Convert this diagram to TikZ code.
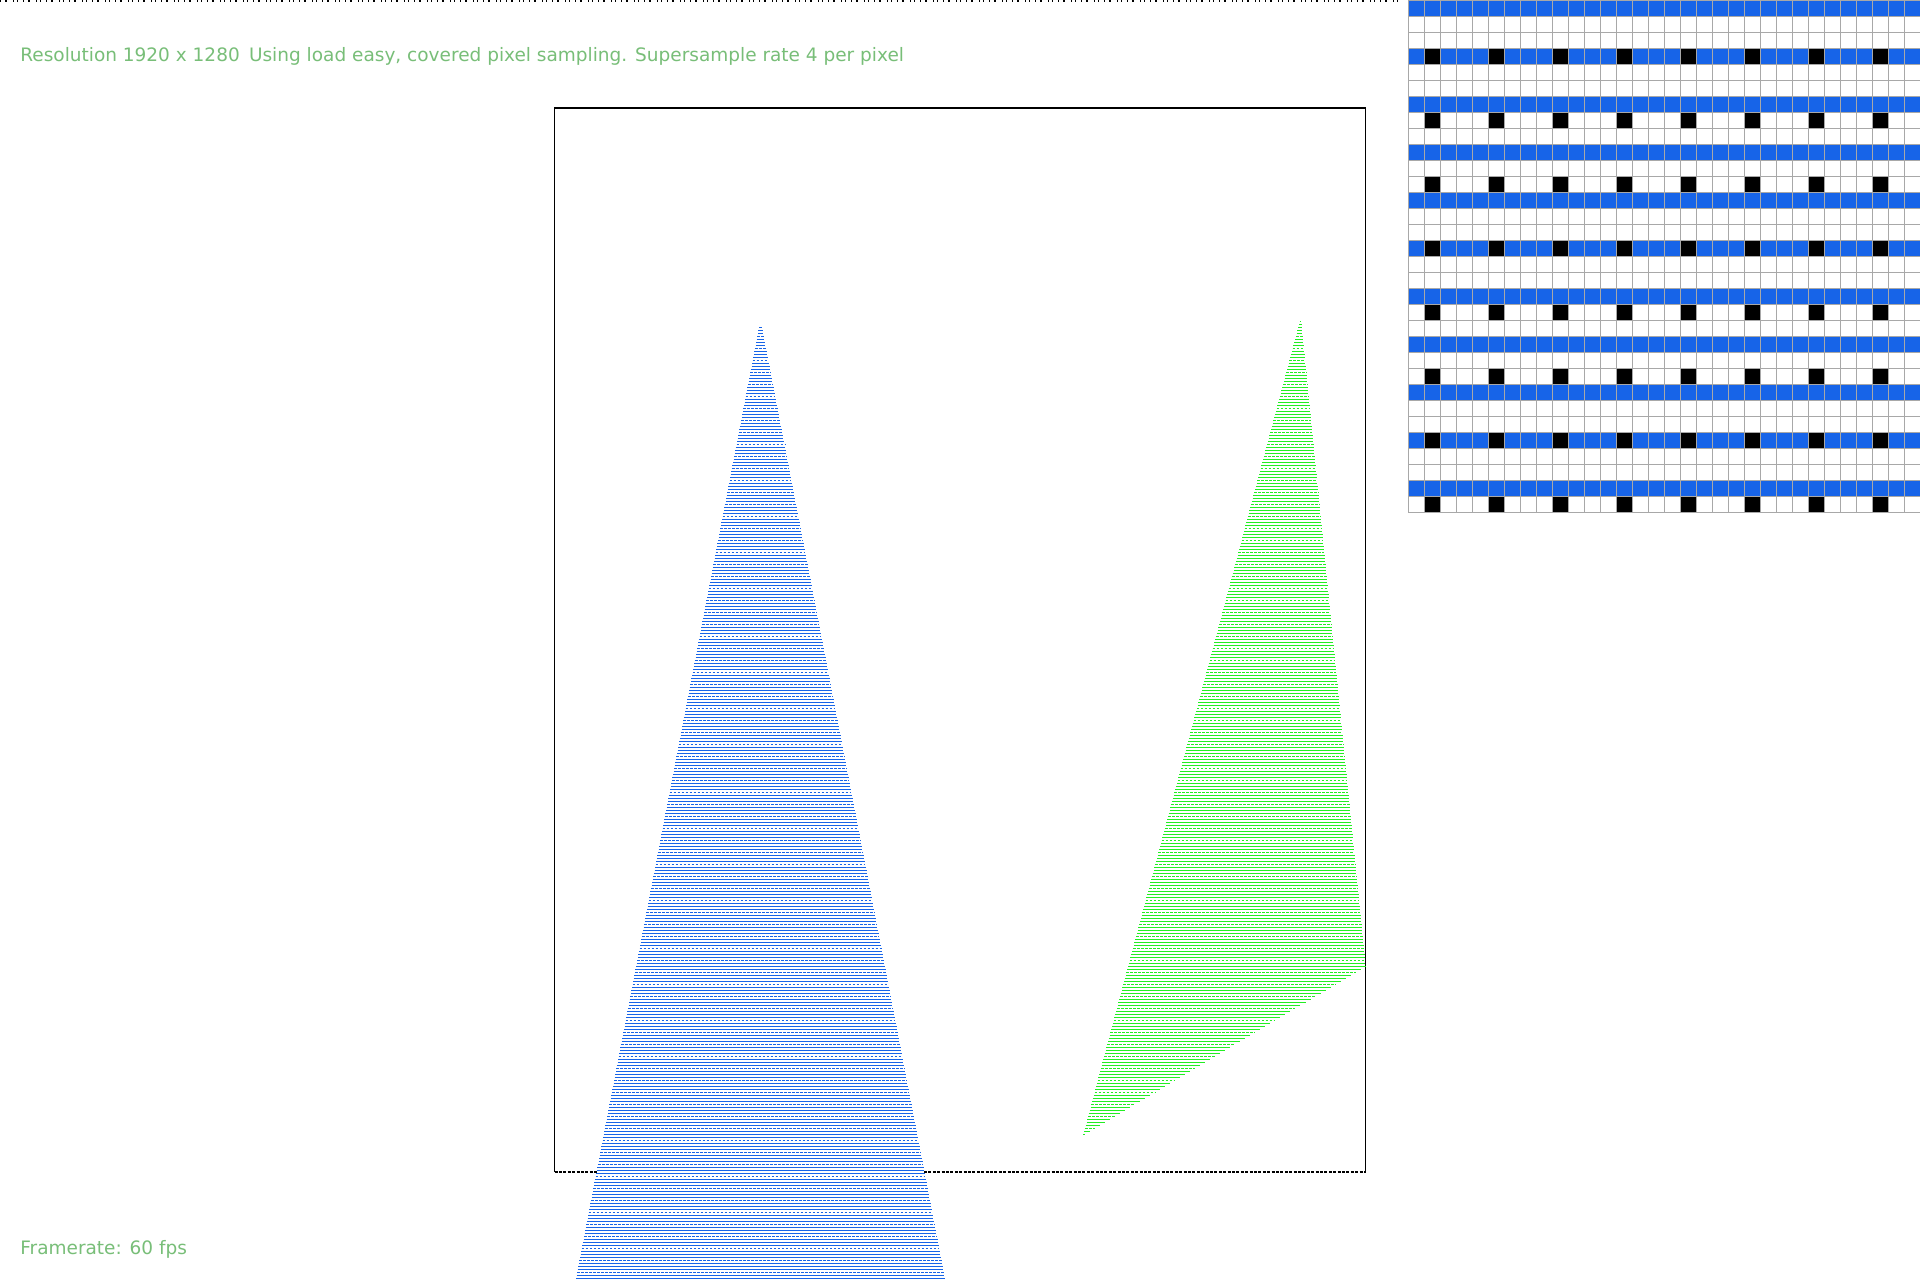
\documentclass[tikz,border=0pt]{standalone}
\usepackage{fontspec}
\setmainfont{DejaVu Sans}
\definecolor{gridblue}{HTML}{1764E8}
\definecolor{hatchgreen}{HTML}{22EE22}
\definecolor{txtgreen}{RGB}{120,190,120}
\definecolor{gridgray}{HTML}{A8A8A8}
\begin{document}
\begin{tikzpicture}[x=0.5pt,y=-0.5pt,
  gridline/.style={gridgray,line width=0.45pt},
  bluehatch/.style={gridblue,line width=0.5pt},
  greenhatch/.style={hatchgreen,line width=0.5pt},
  h0/.style={}, h1/.style={}, h2/.style={},
  h3/.style={dash pattern=on 1.35pt off 0.65pt},
  frameline/.style={black,line width=0.6pt},
  caption/.style={anchor=base west,inner sep=0pt,text=txtgreen,font=\fontsize{9.25}{11}\selectfont}]
\useasboundingbox (0,0) rectangle (1920,1280);
\fill[white] (0,0) rectangle (1920,1280);
% top dotted strip
\draw[black,line width=1pt,dash pattern=on 0.5pt off 2pt on 1pt off 3pt on 0.5pt off 1.5pt on 0.5pt off 2.5pt] (0,1) -- (1403,1);
% grid
\foreach \r in {0,3,...,30} \fill[gridblue] (1408,\r*16) rectangle (1920,\r*16+16);
\foreach \r in {3,7,...,31} \foreach \c in {1,5,...,29} \fill[black] (1408+\c*16,\r*16) rectangle (1424+\c*16,\r*16+16);
\foreach \i in {0,...,32} {
  \draw[gridline] (1408+\i*16,0) -- (1408+\i*16,512);
  \draw[gridline] (1408,\i*16) -- (1920,\i*16);
}
% frame (right and top solid, bottom dashed, hidden behind the blue triangle)
\draw[frameline] (554.5,1172) -- (554.5,108) -- (1365.5,108) -- (1365.5,1172);
\draw[frameline,dash pattern=on 1.5pt off 0.7pt] (554.5,1172) -- (597,1172);
\draw[frameline,dash pattern=on 1.5pt off 0.7pt] (924,1172) -- (1365.5,1172);
% blue triangle hatching
\foreach \i in {0,...,317} {
  \pgfmathsetmacro\yy{327+3*\i}
  \pgfmathsetmacro\hw{1.5+183*(\i/317)}
  \pgfmathtruncatemacro\d{mod(\i,4)}
  \draw[bluehatch,h\d] (760.5-\hw,\yy) -- (760.5+\hw,\yy);
}
% green triangle hatching
\foreach \i in {0,...,271} {
  \pgfmathsetmacro\yy{321+3*\i}
  \pgfmathsetmacro\xl{1300.5-216.5*((\yy-321)/813)-0.7}
  \pgfmathsetmacro\xa{1300.5+64.5*((\yy-321)/645)}
  \pgfmathsetmacro\xb{1365-281*((\yy-966)/168)}
  \pgfmathsetmacro\xr{min(\xa,\xb)+0.7}
  \pgfmathtruncatemacro\d{mod(\i+2,4)}
  \draw[greenhatch,h\d] (\xl,\yy) -- (\xr,\yy);
}
% texts
\node[caption] (title) at (20,61) {Resolution 1920 x 1280\enspace Using load easy, covered pixel sampling. Supersample rate 4 per pixel};
\node[caption] (fps) at (20,1254) {Framerate: 60 fps};
\end{tikzpicture}
\end{document}
